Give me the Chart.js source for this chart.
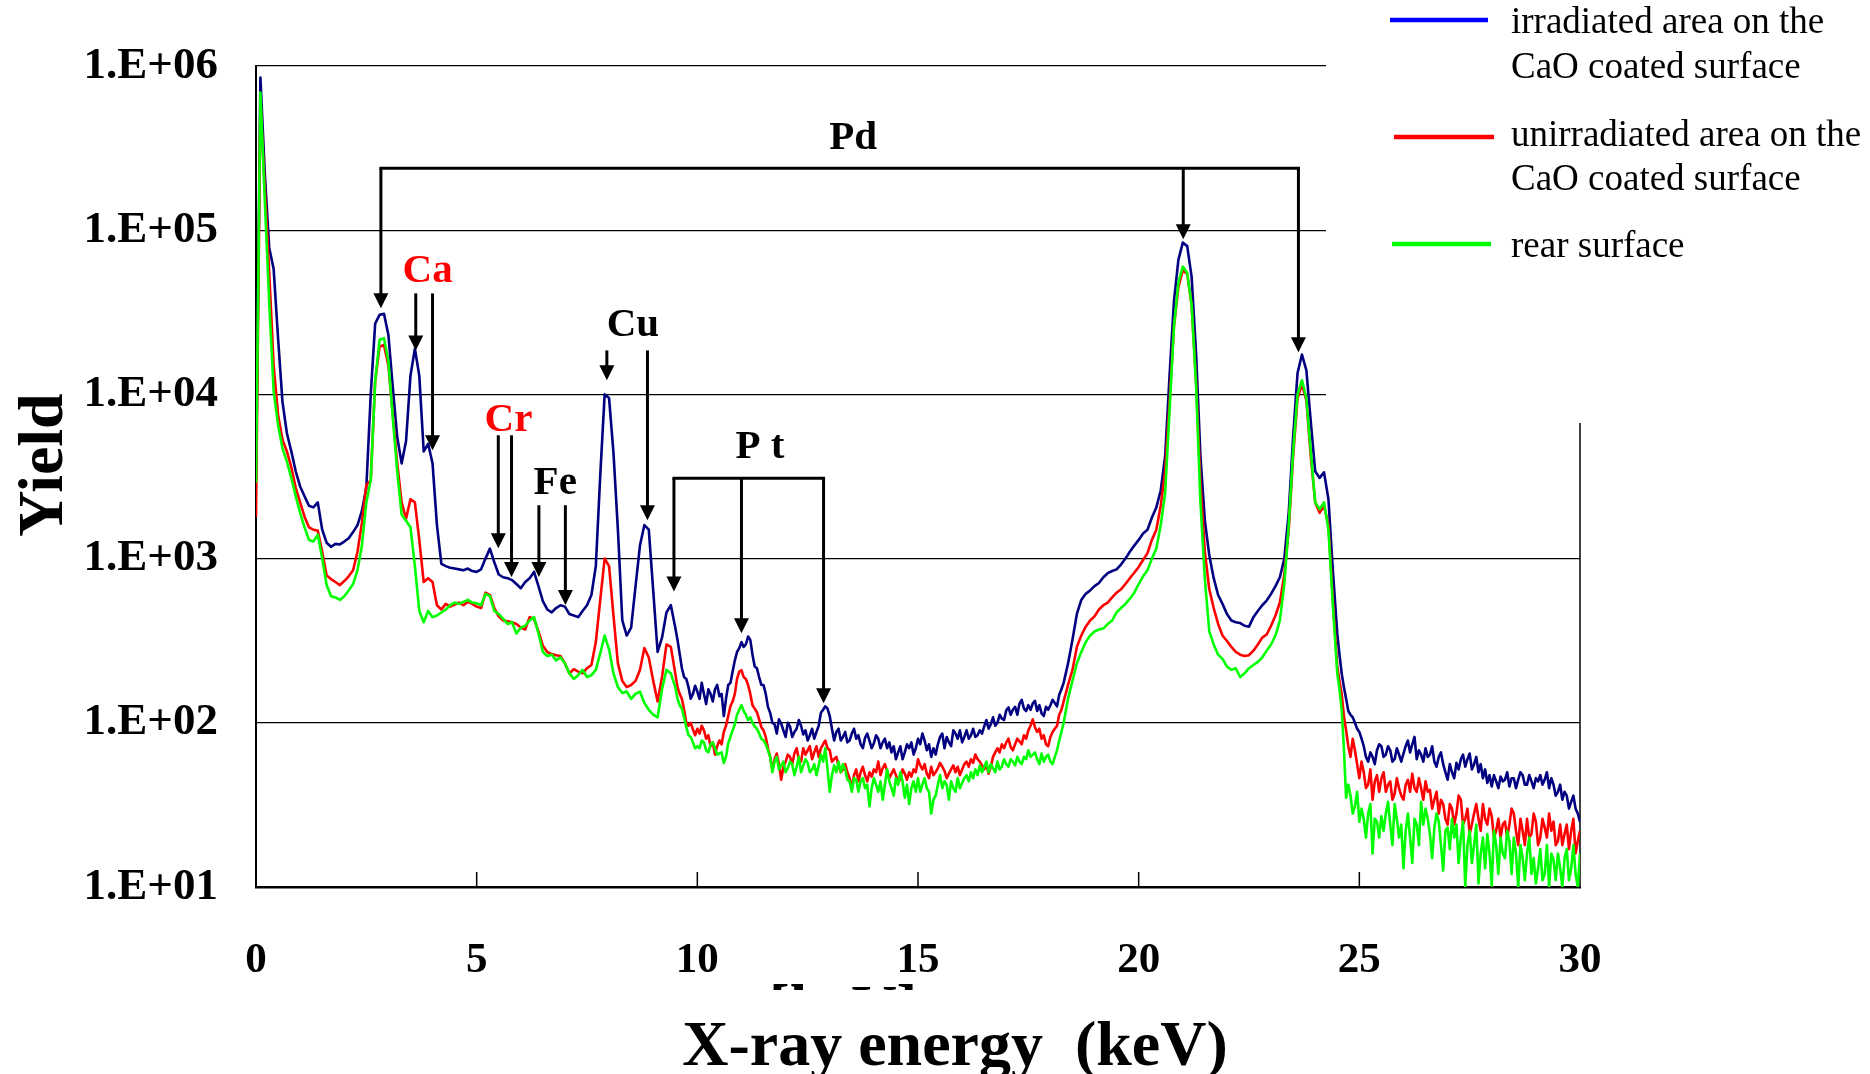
<!DOCTYPE html>
<html><head><meta charset="utf-8">
<script src="https://cdn.jsdelivr.net/npm/chart.js@4.4.0/dist/chart.umd.min.js"></script>
<style>html,body{margin:0;padding:0;background:#fff;}#wrap{width:1870px;height:1074px;}</style>
</head><body><div id="wrap"><canvas id="c" width="1870" height="1074"></canvas></div>
<script>
// X-ray energy grid (keV): 0.1 keV channels, plus half-channels in the noisy ranges
const energy = Array.from({length: 301}, (_, i) => i / 10);
const halfEnergyA = Array.from({length: 88}, (_, i) => (955 + i * 10) / 100);   // 9.55 .. 18.25
const halfEnergyB = Array.from({length: 55}, (_, i) => (2455 + i * 10) / 100);  // 24.55 .. 29.95

// irradiated area on the CaO coated surface
const irradiated = [
 3000,850000,220000,78000,58000,22000,9000,5800,4500,3400,
 2750,2400,2100,2050,2200,1500,1250,1180,1230,1220,
 1270,1330,1450,1600,1950,2700,10000,27000,30500,31000,
 23000,11000,5500,3800,5200,13000,19000,13000,4500,5000,
 3800,1600,930,900,880,870,860,850,870,840,
 830,860,1000,1150,950,800,770,760,740,700,
 660,720,760,830,680,550,490,470,500,520,
 510,460,450,440,480,520,600,900,3200,10000,
 9500,4400,1500,420,340,380,680,1200,1600,1500,
 640,270,330,470,520,380,263,190,165,150,
 155,175,130,150,160,145,110,170,205,270,
 310,300,320,220,190,170,125,100,86,99,
 82,95,88,104,85,78,92,88,115,126,
 110,78,92,82,76,86,80,74,81,78,
 75,80,76,70,66,60,72,66,70,64,
 80,86,68,62,64,82,70,76,90,80,
 76,90,84,82,90,95,92,108,100,106,
 119,112,125,131,122,128,131,118,114,125,
 128,132,148,175,230,320,460,560,610,640,
 680,710,770,815,840,860,920,1000,1100,1200,
 1300,1420,1500,1780,2050,2600,4200,13000,37000,66000,
 84000,80000,52000,18000,4200,1700,1050,760,600,530,
 460,420,410,405,390,385,440,480,520,555,
 610,680,770,1000,1900,5500,13500,17500,14000,6800,
 3400,3100,3350,2300,850,350,200,140,112,100,
 88,72,58,62,68,72,64,68,60,64,
 65,78,74,60,64,70,64,58,62,56,
 45,50,57,60,54,65,56,50,46,43,
 41,44,47,45,41,46,45,48,42,44,
 46,48,45,40,42,38,34,36,33,30,
 25];
const irradiatedHalfA = [
 320,215,185,140,168,
 140,150,160,135,170,150,140,175,240,285,
 290,335,260,215,170,150,115,98,105,90,
 100,82,92,96,90,84,80,96,120,122,
 92,88,78,88,78,92,84,70,86,70,
 84,70,80,76,72,66,60,74,76,70,
 74,78,74,70,74,86,82,72,86,90,
 82,80,92,84,86,104,98,96,112,104,
 124,120,112,138,118,120,136,128,110,120,
 138,126,160];
const irradiatedHalfB = [
 260,165,118,108,92,
 80,62,66,56,74,62,72,58,70,58,
 72,66,82,68,58,62,72,54,66,50,
 56,46,52,64,60,52,62,56,52,48,
 48,40,44,50,46,40,50,42,48,40,
 44,42,50,46,36,42,38,30,36,28];

// unirradiated area on the CaO coated surface
const unirradiated = [
 1800,600000,180000,55000,15000,7500,5300,4500,3600,2700,
 2200,1800,1550,1500,1480,1100,790,750,720,690,
 730,780,850,1100,1650,2800,3000,12000,19500,20000,
 15000,7500,3800,2200,1750,2300,2200,1300,720,760,
 720,520,490,530,510,525,540,520,545,530,
 510,500,620,600,500,445,420,415,410,400,
 380,370,440,430,360,295,270,262,258,255,
 230,200,212,205,200,215,225,310,560,1000,
 900,450,230,180,165,170,180,210,285,250,
 180,135,190,300,290,200,150,120,96,91,
 92,96,80,72,64,78,88,110,135,185,
 209,185,150,122,105,90,70,52,65,45,
 58,62,65,60,70,68,60,72,70,78,
 68,60,55,52,50,40,52,50,48,50,
 52,58,53,51,49,48,46,49,50,52,
 60,52,49,54,50,57,51,49,55,54,
 52,58,60,64,58,52,49,62,70,74,
 76,71,74,77,84,90,105,88,80,74,
 82,92,112,135,170,210,290,340,385,420,
 445,490,520,540,580,620,650,700,760,820,
 890,980,1080,1300,1500,2100,3400,9000,26000,45000,
 57000,54000,35000,12000,2900,1100,650,500,400,340,
 315,290,270,260,255,258,275,300,330,345,
 390,450,540,800,1500,4200,9500,11500,9200,4200,
 2200,1900,2100,1600,560,220,150,90,62,68,
 46,50,42,34,48,46,38,44,37,40,
 34,45,49,38,40,44,39,34,28,32,
 24,30,28,34,26,21,28,26,32,24,
 27,22,20,25,24,28,18,22,26,21,
 25,20,23,28,25,19,18,24,22,16,
 22];
const unirradiatedHalfA = [
 165,140,100,100,84,
 86,90,84,76,72,74,96,126,150,205,
 190,170,128,116,94,82,62,60,56,54,
 64,56,70,58,64,72,66,62,74,70,
 58,62,50,56,46,48,44,54,44,47,
 50,48,56,46,52,43,52,45,47,50,
 55,56,46,48,53,54,46,52,50,48,
 56,54,57,60,55,56,54,66,66,70,
 80,68,80,74,80,96,94,92,84,72,
 88,96,120];
const unirradiatedHalfB = [
 180,110,72,80,56,
 58,40,52,44,38,50,42,34,46,36,
 42,38,40,46,34,38,30,38,34,26,
 32,24,36,24,30,24,32,22,26,30,
 20,26,24,20,30,22,26,18,20,28,
 18,26,20,22,18,24,21,17,26,19];

// rear surface
const rear = [
 2900,690000,150000,36000,10500,6500,4700,3900,3100,2400,
 1900,1550,1300,1270,1400,1000,690,590,580,560,
 590,640,700,850,1200,2200,3000,12000,21500,22000,
 16000,7200,3400,1850,1700,1550,900,480,410,480,
 440,450,470,490,520,540,530,545,560,540,
 535,520,610,590,480,460,430,400,410,350,
 380,390,420,440,350,270,255,260,240,250,
 230,200,185,195,210,190,195,210,265,340,
 280,200,165,152,155,140,150,155,132,120,
 112,108,160,210,200,165,128,108,84,76,
 72,78,68,74,70,65,57,75,90,112,
 128,112,108,95,86,78,68,50,62,55,
 50,58,48,62,55,57,52,48,64,70,
 38,55,58,56,45,38,45,44,40,31,
 46,38,34,52,40,46,50,35,32,44,
 46,42,40,28,36,48,44,34,40,46,
 43,48,50,52,55,54,50,53,58,54,
 56,60,55,58,62,68,64,60,65,62,
 58,62,78,100,140,180,230,270,310,340,
 360,370,375,400,420,470,500,530,570,620,
 700,780,850,1000,1150,1600,2500,8000,26000,48000,
 60000,55000,35000,11500,2200,750,360,300,260,245,
 220,210,215,190,200,215,225,235,250,275,
 300,340,420,700,1600,4500,10000,12200,9500,4500,
 2200,2000,2200,1500,520,200,120,35,36,31,
 25,26,28,16,25,27,28,24,32,20,
 13,28,14,24,33,30,21,23,25,12.6,
 23,26,24,20,10,22,18,10.5,20,21,
 10.2,18,20,15,19,20,10,15,16,12,
 10.5,17,12,10,14.6,16,10,17,13,12,
 16];
const rearHalfA = [
 140,122,94,82,70,
 70,76,66,76,64,66,62,82,98,120,
 118,104,100,92,80,74,62,58,52,58,
 53,56,54,50,60,50,56,55,58,52,
 48,50,50,52,44,46,38,46,42,40,
 42,44,42,44,36,42,44,42,40,38,
 38,46,38,34,42,40,42,44,38,40,
 46,44,46,48,50,58,56,50,52,60,
 54,58,62,56,60,62,66,56,58,64,
 56,68,88];
const rearHalfB = [
 160,70,42,28,38,
 30,20,32,26,20,22,33,18,26,24,
 22,20,26,18,24,26,15,28,18,22,
 17,20,14,25,18,14,24,16,13,16,
 22,12,16,22,12,16,18,11,20,15,
 13,11,18,16,11,13,15,11,18,10];

const yTickValues = [10, 100, 1000, 10000, 100000, 1000000];
const xTickValues = [0, 5, 10, 15, 20, 25, 30];
const innerXTicks = [5, 10, 15, 20, 25];

const seriesLabels = [
  ['irradiated area on the', 'CaO coated surface'],
  ['unirradiated area on the', 'CaO coated surface'],
  ['rear surface']
];

// Peak annotations: energy (keV) and log10(yield) positions
const pdBracket = {level: 5.377, arrows: [[2.83, 4.524], [21.01, 4.945], [23.62, 4.256]]};
const ptBracket = {level: 3.49, arrows: [[9.47, 2.80], [11.0, 2.546], [12.86, 2.119]]};
const singleArrows = [ // [energy, topLog, tipLog]
  [3.62, 4.615, 4.268], [4.0, 4.615, 3.66],
  [5.49, 3.751, 3.063], [5.79, 3.751, 2.888],
  [6.41, 3.325, 2.888], [7.01, 3.325, 2.717],
  [7.95, 4.268, 4.086], [8.87, 4.268, 3.233]
];
const peakLabels = [ // [text, energy, baselineLog, colour]
  ['Pd', 13.53, 5.493, '#000'],
  ['Ca', 3.89, 4.684, '#ff0000'],
  ['Cu', 8.54, 4.354, '#000'],
  ['Cr', 5.72, 3.775, '#ff0000'],
  ['Fe', 6.78, 3.396, '#000'],
  ['P t', 11.42, 3.611, '#000']
];

const SERIF = "'Liberation Serif', 'Times New Roman', serif";

function arrow(ctx, x, yTop, yTip) {
  const h = 15, w = 7.5;
  ctx.beginPath(); ctx.moveTo(x, yTop); ctx.lineTo(x, yTip - h + 2); ctx.stroke();
  ctx.beginPath(); ctx.moveTo(x - w, yTip - h); ctx.lineTo(x + w, yTip - h); ctx.lineTo(x, yTip); ctx.closePath(); ctx.fill();
}

const overlay = {
  id: 'overlay',
  beforeDatasetsDraw(chart) {
    const ctx = chart.ctx, a = chart.chartArea, xs = chart.scales.x;
    ctx.save();
    ctx.fillStyle = '#fff';
    ctx.fillRect(1326, 0, chart.width - 1326, 423);
    ctx.strokeStyle = '#000';
    ctx.lineWidth = 1.5;
    ctx.beginPath(); ctx.moveTo(a.right, 423); ctx.lineTo(a.right, a.bottom); ctx.stroke();
    for (const t of innerXTicks) {
      const x = xs.getPixelForValue(t);
      ctx.beginPath(); ctx.moveTo(x, a.bottom); ctx.lineTo(x, a.bottom - 15); ctx.stroke();
    }
    ctx.restore();
  },
  afterDraw(chart) {
    const ctx = chart.ctx, xs = chart.scales.x, ys = chart.scales.y;
    const X = e => xs.getPixelForValue(e);
    const Y = l => ys.getPixelForValue(Math.pow(10, l));
    ctx.save();
    ctx.strokeStyle = '#000'; ctx.fillStyle = '#000'; ctx.lineWidth = 3;
    for (const br of [pdBracket, ptBracket]) {
      const yb = Y(br.level);
      const xsA = br.arrows.map(a => X(a[0]));
      ctx.beginPath(); ctx.moveTo(Math.min(...xsA) - 1.5, yb); ctx.lineTo(Math.max(...xsA) + 1.5, yb); ctx.stroke();
      for (const a of br.arrows) arrow(ctx, X(a[0]), yb, Y(a[1]));
    }
    for (const a of singleArrows) arrow(ctx, X(a[0]), Y(a[1]), Y(a[2]));
    ctx.font = `bold 41px ${SERIF}`;
    ctx.textAlign = 'center'; ctx.textBaseline = 'alphabetic';
    for (const l of peakLabels) { ctx.fillStyle = l[3]; ctx.fillText(l[0], X(l[1]), Y(l[2])); }

    // legend
    const legend = [
      {color: '#0000ff', x0: 1390, x1: 1488, y: 20, base: [33, 78]},
      {color: '#ff0000', x0: 1394, x1: 1494, y: 137, base: [146, 190]},
      {color: '#00ff00', x0: 1392, x1: 1491, y: 244, base: [257]}
    ];
    ctx.lineWidth = 4.5;
    ctx.font = `37px ${SERIF}`;
    ctx.textAlign = 'left';
    legend.forEach((L, i) => {
      ctx.strokeStyle = L.color;
      ctx.beginPath(); ctx.moveTo(L.x0, L.y); ctx.lineTo(L.x1, L.y); ctx.stroke();
      ctx.fillStyle = '#000';
      seriesLabels[i].forEach((t, j) => ctx.fillText(t, 1511, L.base[j]));
    });

    // axis titles
    ctx.fillStyle = '#000';
    ctx.font = `bold 64px ${SERIF}`;
    ctx.textAlign = 'center';
    ctx.fillText('X-ray energy  (keV)', 955, 1065);
    ctx.save();
    ctx.translate(62, 465); ctx.rotate(-Math.PI / 2);
    ctx.fillText('Yield', 0, 0);
    ctx.restore();
    // partially hidden unit text under the axis labels
    ctx.save();
    ctx.beginPath(); ctx.rect(760, 983, 170, 7); ctx.clip();
    ctx.font = `bold 62px ${SERIF}`; ctx.textAlign = 'left';
    ctx.fillText('[keV]', 769, 1027);
    ctx.restore();
    ctx.restore();
  }
};

const mk = (main, halfA, halfB) => [
  ...energy.map((e, i) => ({x: e, y: main[i]})),
  ...halfEnergyA.map((e, i) => ({x: e, y: halfA[i]})),
  ...halfEnergyB.map((e, i) => ({x: e, y: halfB[i]}))
].sort((p, q) => p.x - q.x);

new Chart(document.getElementById('c'), {
  type: 'line',
  data: {
    datasets: [
      {label: seriesLabels[0].join(' '), data: mk(irradiated, irradiatedHalfA, irradiatedHalfB), borderColor: '#000080', order: 3},
      {label: seriesLabels[1].join(' '), data: mk(unirradiated, unirradiatedHalfA, unirradiatedHalfB), borderColor: '#ff0000', order: 2},
      {label: seriesLabels[2].join(' '), data: mk(rear, rearHalfA, rearHalfB), borderColor: '#00ff00', order: 1}
    ].map(d => Object.assign(d, {borderWidth: 2.6, pointRadius: 0, tension: 0, fill: false, borderJoinStyle: 'round'}))
  },
  options: {
    responsive: false, animation: false, devicePixelRatio: 1,
    layout: {padding: {left: 0, right: 290, top: 66, bottom: 0}},
    plugins: {legend: {display: false}, tooltip: {enabled: false}},
    scales: {
      x: {
        type: 'linear', min: 0, max: 30,
        afterFit: s => { s.height = 187; },
        afterBuildTicks: s => { s.ticks = xTickValues.map(v => ({value: v})); },
        grid: {display: false},
        border: {display: true, color: '#000', width: 2.6},
        ticks: {autoSkip: false, maxRotation: 0, padding: 40, color: '#000',
          font: {family: SERIF, weight: 'bold', size: 43}}
      },
      y: {
        type: 'logarithmic', min: 10, max: 1000000,
        afterFit: s => { s.width = 256; },
        afterBuildTicks: s => { s.ticks = yTickValues.map(v => ({value: v})); },
        grid: {display: true, color: '#000', lineWidth: 1.3, drawTicks: false},
        border: {display: true, color: '#000', width: 2},
        ticks: {padding: 38, color: '#000', font: {family: SERIF, weight: 'bold', size: 45},
          callback: v => '1.E+' + String(Math.round(Math.log10(v))).padStart(2, '0')}
      }
    }
  },
  plugins: [overlay]
});
</script>
</body></html>
